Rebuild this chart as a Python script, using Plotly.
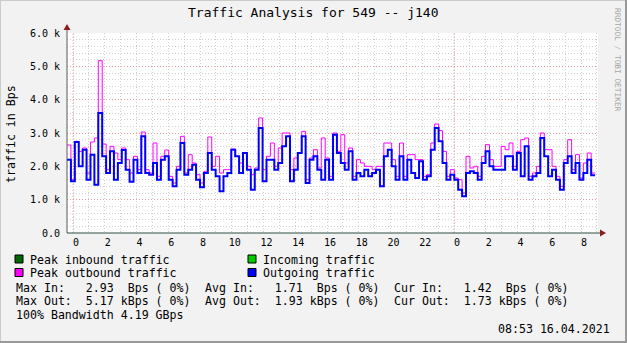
import plotly.graph_objects as go
import pandas as pd

# ---------------- data ----------------
outgoing_k = [
    2.2, 1.55, 2.73, 2.0, 2.5, 1.6, 2.35, 1.45, 3.6, 2.3, 1.8, 2.45, 1.6, 2.1,
    2.49, 1.9, 1.54, 2.2, 1.8, 2.9, 1.8, 1.75, 2.1, 1.6, 2.2, 2.3, 1.6, 1.4,
    1.9, 2.7, 1.75, 1.9, 2.05, 1.6, 1.37, 1.8, 2.4, 1.9, 1.7, 1.25, 1.7, 1.8,
    2.5, 2.3, 1.8, 2.4, 1.9, 1.3, 1.9, 3.15, 1.55, 2.2, 2.2, 1.9, 2.1, 2.6,
    2.9, 1.55, 1.9, 2.4, 2.9, 1.5, 2.2, 2.3, 1.9, 1.6, 2.2, 1.6, 2.95, 2.4,
    2.1, 1.9, 2.45, 1.6, 1.8, 1.7, 1.9, 1.7, 1.8, 1.9, 1.4, 2.3, 2.5, 2.0,
    1.6, 2.3, 1.6, 2.2, 1.8, 1.65, 2.15, 1.6, 1.7, 2.5, 3.15, 2.75, 2.1, 1.6,
    1.75, 1.6, 1.3, 1.1, 1.8, 1.85, 1.8, 1.6, 2.1, 2.45, 2.0, 1.9, 1.9, 1.9,
    2.3, 2.3, 1.9, 2.4, 1.7, 2.6, 1.6, 1.7, 1.8, 2.85, 2.3, 1.7, 1.9, 1.6,
    1.3, 2.1, 2.3, 1.8, 2.1, 1.6, 1.8, 2.2, 1.73,
]
peak_outbound_k = [
    2.64, 1.6, 2.75, 2.45, 2.55, 1.8, 2.73, 2.85, 5.17, 2.67, 1.9, 2.6, 2.4, 2.2,
    2.55, 2.2, 1.8, 2.3, 1.9, 3.03, 1.9, 1.8, 2.7, 1.7, 2.3, 2.49, 1.7, 1.5,
    2.0, 2.9, 1.8, 2.35, 2.1, 1.75, 1.5, 1.85, 2.88, 2.0, 2.3, 1.8, 1.9, 1.9,
    2.52, 2.3, 2.1, 2.4, 2.0, 1.75, 1.95, 3.45, 1.9, 2.3, 2.7, 2.0, 2.55, 3.0,
    3.0, 1.9, 2.25, 2.4, 3.05, 1.6, 2.25, 2.5, 1.95, 2.85, 2.25, 1.7, 3.0, 2.45,
    2.95, 2.1, 2.55, 1.7, 2.2, 2.1, 2.0, 2.0, 1.9, 2.0, 2.0, 2.7, 2.7, 2.2,
    1.7, 2.7, 1.7, 2.35, 2.35, 2.2, 2.2, 1.7, 1.75, 2.7, 3.27, 3.07, 2.45, 1.7,
    1.9, 1.65, 1.6, 1.2, 2.3, 1.95, 2.0, 1.7, 2.3, 2.65, 2.2, 2.0, 2.0, 2.6,
    2.5, 2.7, 2.0, 2.45, 2.8, 2.85, 1.7, 1.8, 2.0, 3.0, 2.5, 2.5, 2.0, 1.7,
    1.4, 2.2, 2.8, 1.9, 2.35, 1.65, 2.1, 2.4, 1.8,
]
t_start, t_end = "2021-04-14 23:37", "2021-04-16 08:53"
x_range = ["2021-04-14 23:37", "2021-04-16 09:04"]
midnights = ["2021-04-15 00:00", "2021-04-16 00:00"]
y_tick_vals = [0, 1000, 2000, 3000, 4000, 5000, 6000]
y_tick_text = ["0.0", "1.0 k", "2.0 k", "3.0 k", "4.0 k", "5.0 k", "6.0 k"]

title = "Traffic Analysis for 549 -- j140"
y_title = "traffic in Bps"
legend_items = [
    ("Peak inbound traffic", "#006600", 0, 0),
    ("Incoming traffic", "#00cc00", 1, 0),
    ("Peak outbound traffic", "#ff00ff", 0, 1),
    ("Outgoing traffic", "#0000ff", 1, 1),
]
stats_rows = [
    ["Max In:   2.93  Bps ( 0%)", "Avg In:   1.71  Bps ( 0%)", "Cur In:   1.42  Bps ( 0%)"],
    ["Max Out:  5.17 kBps ( 0%)", "Avg Out:  1.93 kBps ( 0%)", "Cur Out:  1.73 kBps ( 0%)"],
]
bandwidth_text = "100% Bandwidth 4.19 GBps"
timestamp_text = "08:53 16.04.2021"
watermark = "RRDTOOL / TOBI OETIKER"

# ---------------- layout geometry ----------------
W, H = 627, 343
L, R, T, B = 67, 29, 33, 110
PW, PH = W - L - R, H - T - B
MONO = "DejaVu Sans Mono"


def px(x):
    return (x - L) / PW


def py(y):
    return (H - B - y) / PH


def nb(s):
    return s.replace(" ", "\u00a0")


edges = pd.date_range(t_start, t_end, periods=len(outgoing_k) + 1)
out_vals = [v * 1000 for v in outgoing_k]
peak_vals = [v * 1000 for v in peak_outbound_k]

fig = go.Figure()
fig.add_trace(go.Scatter(x=edges, y=peak_vals + peak_vals[-1:], mode="lines",
                         line=dict(color="#ff00ff", width=1, shape="hv"),
                         hoverinfo="skip", showlegend=False))
fig.add_trace(go.Scatter(x=edges, y=out_vals + out_vals[-1:], mode="lines",
                         line=dict(color="#0000ff", width=2, shape="hv"),
                         hoverinfo="skip", showlegend=False))

shapes = []
# midnight red grid lines
for m in midnights:
    shapes.append(dict(type="line", xref="x", yref="paper", x0=m, x1=m, y0=0, y1=1,
                       line=dict(color="#e89a9a", width=1, dash="1px,2px"), layer="between"))
# axes lines and arrows
shapes.append(dict(type="line", xref="paper", yref="paper", x0=0, x1=0, y0=0, y1=py(27),
                   line=dict(color="#5a5a5a", width=1)))
shapes.append(dict(type="line", xref="paper", yref="paper", x0=0, x1=px(602), y0=0, y1=0,
                   line=dict(color="#2c4d43", width=1)))
shapes.append(dict(type="path", xref="paper", yref="paper",
                   path=f"M {px(63.5)} {py(30)} L {px(70.5)} {py(30)} L {px(67)} {py(24)} Z",
                   fillcolor="#8b1f1f", line=dict(width=0)))
shapes.append(dict(type="path", xref="paper", yref="paper",
                   path=f"M {px(600)} {py(229.5)} L {px(600)} {py(236.5)} L {px(606)} {py(233)} Z",
                   fillcolor="#8b1f1f", line=dict(width=0)))
# legend boxes
for label, color, col, row in legend_items:
    bx = 15 if col == 0 else 248
    by = 255 + row * 13.5
    shapes.append(dict(type="rect", xref="paper", yref="paper",
                       x0=px(bx), x1=px(bx + 8), y0=py(by + 8), y1=py(by),
                       fillcolor=color, line=dict(color="#000000", width=1)))
# outer border
shapes.append(dict(type="line", xref="paper", yref="paper", x0=px(0), x1=px(W), y0=py(0.5), y1=py(0.5),
                   line=dict(color="#cbcbcb", width=1)))
shapes.append(dict(type="line", xref="paper", yref="paper", x0=px(0.5), x1=px(0.5), y0=py(0), y1=py(H),
                   line=dict(color="#cbcbcb", width=1)))
shapes.append(dict(type="line", xref="paper", yref="paper", x0=px(0), x1=px(W), y0=py(H - 1), y1=py(H - 1),
                   line=dict(color="#999999", width=2)))
shapes.append(dict(type="line", xref="paper", yref="paper", x0=px(W - 1), x1=px(W - 1), y0=py(0), y1=py(H),
                   line=dict(color="#999999", width=2)))

annotations = []


def ann(text, x, y, size=11.6, xanchor="left", color="#000000", angle=0):
    annotations.append(dict(text=nb(text), x=px(x), y=py(y), xref="paper", yref="paper",
                            xanchor=xanchor, yanchor="middle", showarrow=False,
                            textangle=angle, borderpad=0, borderwidth=0,
                            font=dict(family=MONO, size=size, color=color)))


ann(title, 313, 13, size=13, xanchor="center")
ann(y_title, 11, 134, xanchor="center", angle=-90)
ann(watermark, 618, 60, size=7.8, xanchor="center", color="#a6a6a6", angle=90)
for label, color, col, row in legend_items:
    ann(label, 30 if col == 0 else 263, 259.5 + row * 13.5)
for r, row in enumerate(stats_rows):
    for c, txt in enumerate(row):
        ann(txt, [16, 205, 394][c], 287.5 + r * 13.5)
ann(bandwidth_text, 16, 315)
ann(timestamp_text, 610, 328.5, xanchor="right")

fig.update_layout(
    width=W, height=H,
    margin=dict(l=L, r=R, t=T, b=B, pad=0),
    paper_bgcolor="#f2f2f2", plot_bgcolor="#ffffff",
    showlegend=False,
    shapes=shapes, annotations=annotations,
    font=dict(family=MONO, size=10, color="#000000"),
    xaxis=dict(type="date", range=x_range, tickformat="%-H",
               tick0=midnights[0], dtick=7200000,
               showgrid=True, gridcolor="#d0d0d0", griddash="1px,2px", gridwidth=1,
               minor=dict(dtick=3600000, tick0=midnights[0], showgrid=True,
                          gridcolor="#d0d0d0", griddash="1px,2px", gridwidth=1),
               showline=False, zeroline=False, ticks="",
               ticklabelstandoff=2, ticklabelshift=3,
               tickfont=dict(family=MONO, size=10, color="#000000")),
    yaxis=dict(range=[0, 6000], tickvals=y_tick_vals, ticktext=y_tick_text,
               showgrid=True, gridcolor="#eaa0a0", griddash="1px,2px", gridwidth=1,
               minor=dict(dtick=200, tick0=0, showgrid=True,
                          gridcolor="#d0d0d0", griddash="1px,2px", gridwidth=1),
               showline=False, zeroline=False, ticks="",
               ticklabelstandoff=6,
               tickfont=dict(family=MONO, size=10, color="#000000")),
)

fig.write_html("out.html")
